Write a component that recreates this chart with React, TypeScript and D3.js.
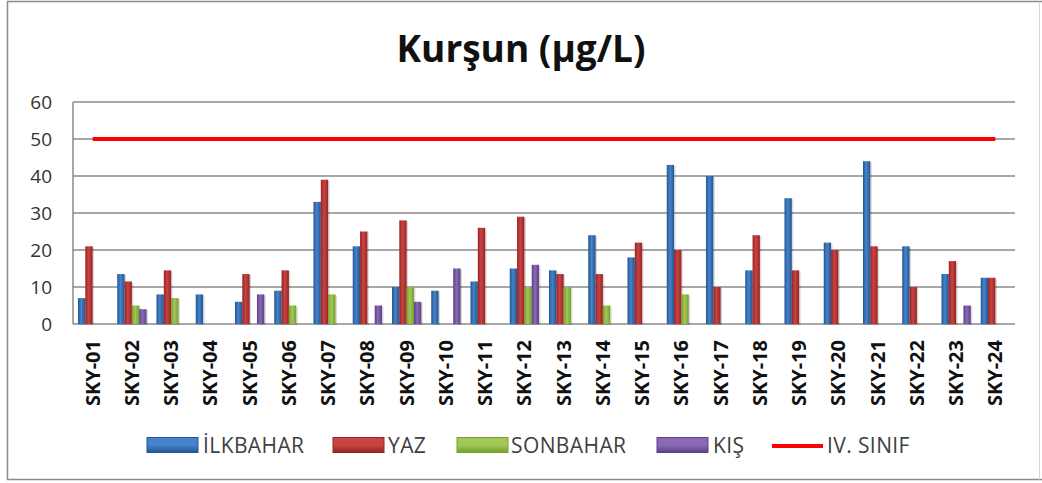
import React from 'react';
import * as d3 from 'd3';

const stations = ['SKY-01','SKY-02','SKY-03','SKY-04','SKY-05','SKY-06','SKY-07','SKY-08','SKY-09','SKY-10','SKY-11','SKY-12','SKY-13','SKY-14','SKY-15','SKY-16','SKY-17','SKY-18','SKY-19','SKY-20','SKY-21','SKY-22','SKY-23','SKY-24'];
const ilkbahar = [7, 13.5, 8, 8, 6, 9, 33, 21, 10, 9, 11.5, 15, 14.5, 24, 18, 43, 40, 14.5, 34, 22, 44, 21, 13.5, 12.5];
const yaz = [21, 11.5, 14.5, null, 13.5, 14.5, 39, 25, 28, null, 26, 29, 13.5, 13.5, 22, 20, 10, 24, 14.5, 20, 21, 10, 17, 12.5];
const sonbahar = [null, 5, 7, null, null, 5, 8, null, 10, null, null, 10, 10, 5, null, 8, null, null, null, null, null, null, null, null];
const kis = [null, 4, null, null, 8, null, null, 5, 6, 15, null, 16, null, null, null, null, null, null, null, null, null, null, 5, null];
const limit = 50; // IV. sınıf
const yTicks = [0, 10, 20, 30, 40, 50, 60];

const seriesNames = ['İLKBAHAR', 'YAZ', 'SONBAHAR', 'KIŞ'];
const seriesValues = [ilkbahar, yaz, sonbahar, kis];
const colors = [
  {edge: '#23558f', mid: '#4683cc'},
  {edge: '#962424', mid: '#c94443'},
  {edge: '#74a02a', mid: '#a2c858'},
  {edge: '#5c4088', mid: '#8a6ab4'},
];

export default function App() {
  const W = 1042, H = 483;
  const plot = {left: 73, right: 1015, top: 102, bottom: 324};

  const x = d3.scaleBand<string>().domain(stations).range([plot.left, plot.right]).padding(0);
  const inner = d3.scaleBand<number>().domain([0, 1, 2, 3]).range([0, x.bandwidth()]).paddingInner(0).paddingOuter(0.68);
  const y = d3.scaleLinear().domain([0, 60]).range([plot.bottom, plot.top]);
  const cx = (s: string) => (x(s) as number) + x.bandwidth() / 2;

  const legendItems = [
    {label: seriesNames[0], sx: 147, tx: 203},
    {label: seriesNames[1], sx: 333, tx: 388},
    {label: seriesNames[2], sx: 457, tx: 511},
    {label: seriesNames[3], sx: 657, tx: 713},
  ];
  const legendY = 445;

  return (
    <svg width={W} height={H} style={{position: 'absolute', left: 0, top: 0, background: '#fff'}}>
      <defs>
        {colors.map((c, i) => (
          <linearGradient key={'b' + i} id={'bar' + i} x1="0" x2="1" y1="0" y2="0">
            <stop offset="0" stopColor={c.edge} />
            <stop offset="0.45" stopColor={c.mid} />
            <stop offset="1" stopColor={c.edge} />
          </linearGradient>
        ))}
        {colors.map((c, i) => (
          <linearGradient key={'l' + i} id={'leg' + i} x1="0" x2="0" y1="0" y2="1">
            <stop offset="0" stopColor={c.mid} />
            <stop offset="0.5" stopColor={c.mid} />
            <stop offset="1" stopColor={c.edge} />
          </linearGradient>
        ))}
      </defs>
      <rect x={7.5} y={1.5} width={1045} height={478} fill="#fff" stroke="#8c8c8c" strokeWidth={1.5} />
      <line x1={1039.5} x2={1039.5} y1={1.5} y2={479.5} stroke="#d6d6d6" strokeWidth={1} />

      <text x={W / 2} y={62} textAnchor="middle" fontFamily="'Open Sans', sans-serif" fontWeight="bold" fontSize={37} fill="#111">Kurşun (µg/L)</text>

      {/* grid */}
      <g>
        {yTicks.map(t => (
          <line key={t} x1={plot.left} x2={plot.right} y1={y(t)} y2={y(t)} stroke="#8a8a8a" strokeWidth={1.5} />
        ))}
        <line x1={plot.left} x2={plot.left} y1={plot.top} y2={plot.bottom} stroke="#8a8a8a" strokeWidth={1.5} />
        {yTicks.map(t => (
          <text key={'t' + t} x={52} y={y(t)} dy="0.35em" textAnchor="end" fontFamily="'Open Sans', sans-serif" fontSize={19} fill="#333">{t}</text>
        ))}
      </g>

      {/* bars */}
      <g>
        {seriesValues.map((vals, si) => (
          <g key={si}>
            {vals.map((v, i) => v == null ? null : (
              <g key={i}>
                <rect x={(x(stations[i]) as number) + (inner(si) as number) + 1.5} y={y(v) + 1} width={inner.bandwidth()} height={y(0) - y(v)} fill="#000" opacity={0.15} />
                <rect x={(x(stations[i]) as number) + (inner(si) as number)} y={y(v)} width={inner.bandwidth()} height={y(0) - y(v)} fill={`url(#bar${si})`} />
              </g>
            ))}
          </g>
        ))}
      </g>

      {/* limit line */}
      <line x1={cx(stations[0])} x2={cx(stations[stations.length - 1])} y1={y(limit)} y2={y(limit)} stroke="#ff0000" strokeWidth={4} />

      {/* x labels */}
      <g>
        {stations.map(s => (
          <text key={s} transform={`translate(${cx(s)},340) rotate(-90)`} dy="0.35em" textAnchor="end" fontFamily="'Open Sans', sans-serif" fontWeight="bold" fontSize={20} fill="#111">{s}</text>
        ))}
      </g>

      {/* legend */}
      <g fontFamily="'Open Sans', sans-serif" fontSize={21} fill="#404040" letterSpacing={0.4}>
        {legendItems.map((it, i) => (
          <g key={it.label}>
            <rect x={it.sx} y={legendY - 7.5} width={51} height={15} fill={`url(#leg${i})`} stroke={colors[i].edge} strokeWidth={1} />
            <text x={it.tx} y={legendY} dy="0.36em">{it.label}</text>
          </g>
        ))}
        <line x1={772} x2={823} y1={legendY + 1} y2={legendY + 1} stroke="#ff0000" strokeWidth={4} />
        <text x={827} y={legendY} dy="0.36em">IV. SINIF</text>
      </g>
    </svg>
  );
}
